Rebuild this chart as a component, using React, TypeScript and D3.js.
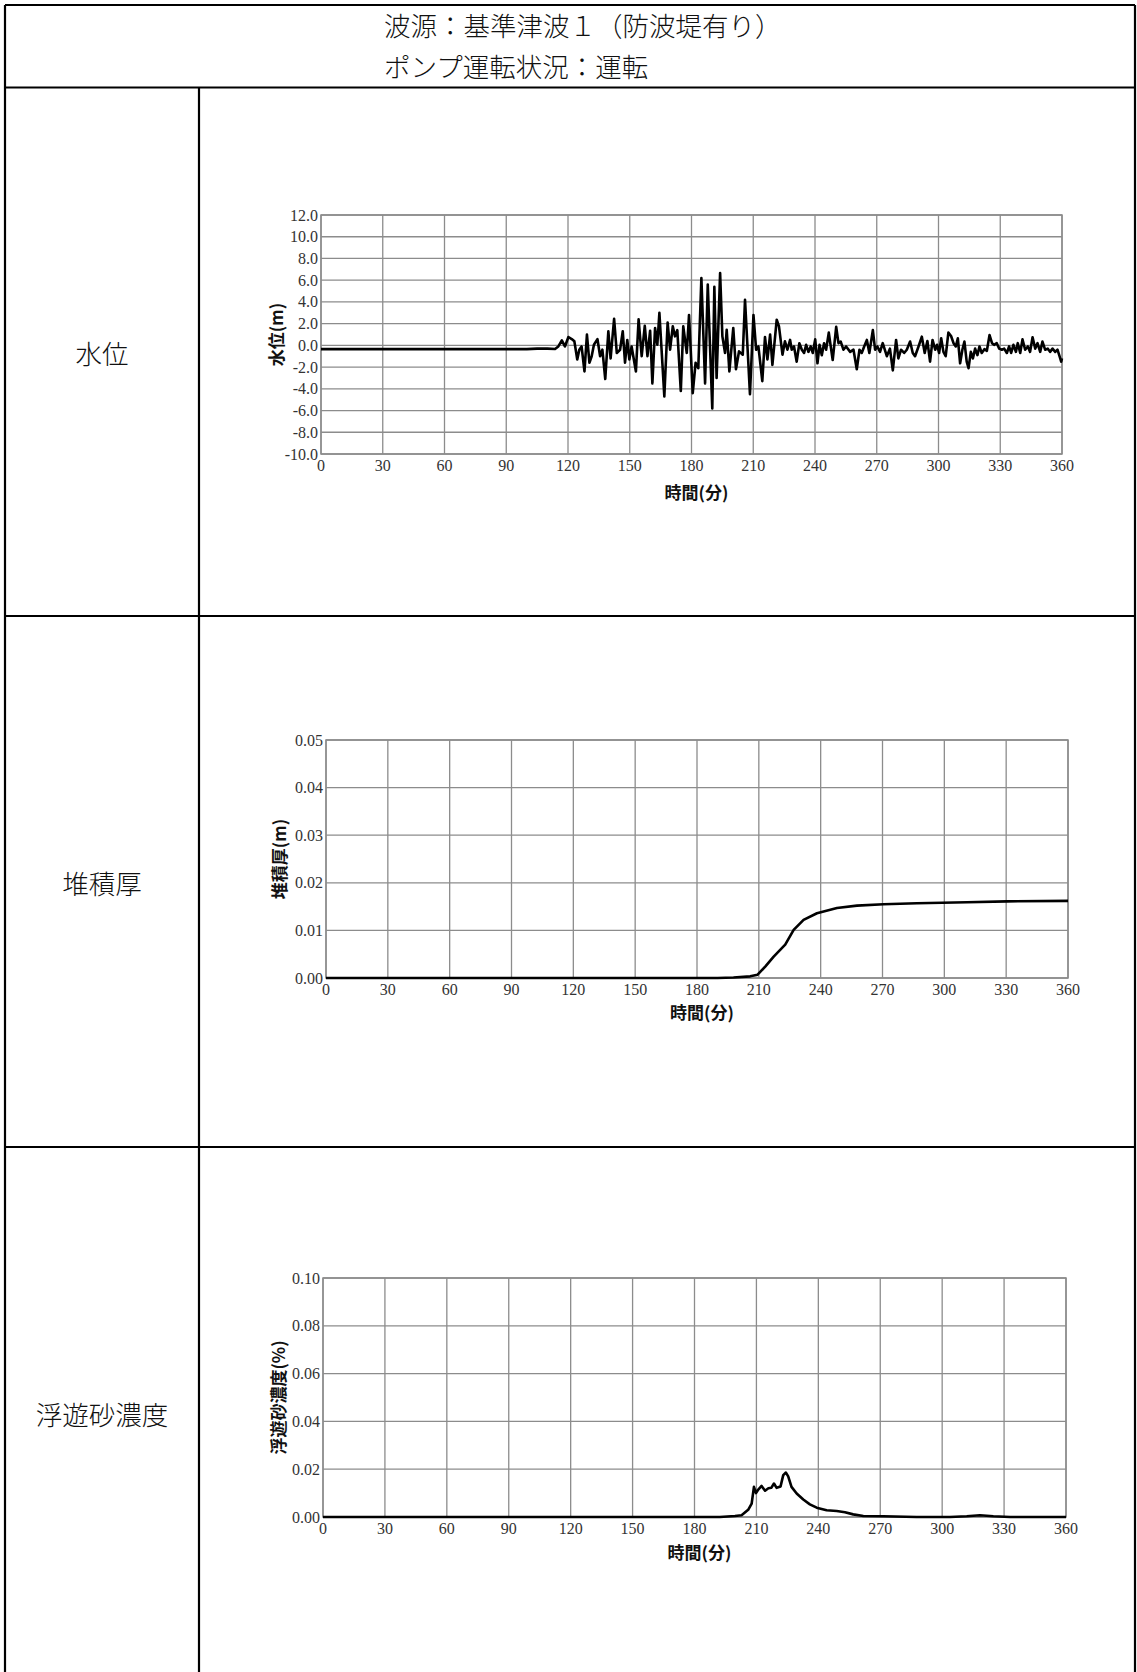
import React from "react";
import * as d3 from "d3";

// ---------- Header / labels ----------
const headerLines = ["波源：基準津波１（防波堤有り）", "ポンプ運転状況：運転"];
const rowLabels = ["水位", "堆積厚", "浮遊砂濃度"];
const xTitle = "時間(分)";
const yTitles = ["水位(m)", "堆積厚(m)", "浮遊砂濃度(%)"];

// ---------- Axis ticks ----------
const timeTicks = [0, 30, 60, 90, 120, 150, 180, 210, 240, 270, 300, 330, 360];
const levelTicks = [-10, -8, -6, -4, -2, 0, 2, 4, 6, 8, 10, 12];
const thickTicks = [0, 0.01, 0.02, 0.03, 0.04, 0.05];
const concTicks = [0, 0.02, 0.04, 0.06, 0.08, 0.1];

// ---------- Water level (m) ----------
const levelTime = [
  0, 100, 105, 110, 113.7, 115.3, 117, 118.5, 120.2, 121.8, 123.1, 124.5, 125.5, 126.6, 128, 129.2, 130.4, 131.5,
  132.6, 134.3, 135.6, 136.7, 138.1, 139.6, 140.7, 142.4, 143.7, 145.3, 146.6, 147.7, 148.8, 149.8, 150.9, 153,
  154.3, 155.8, 157.3, 158.6, 159.9, 161, 162.3, 163.4, 164.4, 166.8, 168.4, 169.6, 170.9, 172, 173.1, 174.8, 176,
  177.7, 178.8, 180.6, 182, 183.3, 184.8, 186.6, 187.9, 190.1, 191.1, 192.2, 193.9, 195, 196.3, 197.1, 198.4,
  200.3, 201.6, 203.1, 204.9, 206, 208.4, 210.1, 211.4, 212.5, 214.4, 215.7, 216.9, 218.2, 219.3, 221.4, 222.5,
  224.2, 225.4, 226.6, 227.9, 228.7, 229.8, 231.1, 232.4, 233.6, 234.7, 235.7, 236.8, 237.9, 238.9, 240.1, 241.2,
  242.2, 243.3, 244.4, 245.4, 246.7, 247.8, 248.6, 250.3, 251.4, 252.5, 253.8, 255.1, 257.1, 258.7, 260.3, 261.6,
  262.7, 263.9, 265.2, 266.4, 268.1, 269.2, 270.3, 271.6, 272.9, 274.9, 276.4, 277.8, 279.4, 280.5, 281.8, 283.3,
  284.6, 286.2, 287.5, 288.6, 290.3, 291.9, 293.3, 294.6, 295.9, 297.1, 298.4, 299.3, 300.3, 301.3, 302.4, 303.5,
  304.8, 306.1, 307.3, 308.4, 309.4, 310.5, 311.6, 312.6, 313.7, 314.6, 315.7, 316.7, 317.8, 318.9, 319.9, 321,
  322.3, 323.5, 324.8, 326, 327, 328.3, 329.5, 330.8, 331.9, 333.2, 334.3, 335.3, 336.4, 337.6, 338.5, 339.7,
  340.8, 342.1, 343.4, 344.5, 345.7, 347, 348.1, 349.4, 350.5, 351.8, 353.1, 354.2, 355.4, 356.7, 357.8, 358.8,
  359.6, 360,
];
const levelValue = [
  -0.35, -0.35, -0.3, -0.3, -0.33, -0.1, 0.46, -0.1, 0.77, 0.58, 0.37, -1.3, -0.4, -0.1, -2.4, 1.0, -1.6, -1.0,
  0.06, 0.58, -1.0, -0.4, -3.1, 1.3, -1.2, 2.45, -0.7, -0.4, 1.3, -1.6, 0.5, -1.3, -0.1, -2.4,
  2.4, -1.0, 1.8, -1.0, 1.35, -3.5, 1.6, 0.06, 3.0, -4.7, 2.1, -0.4, 1.75, 0.83, 1.4, -4.2, 1.75,
  -0.7, 2.8, -4.4, -1.6, -2.1, 6.2, -3.5, 5.6, -5.8, 5.4, -3.0, 6.65, 0.83, -0.7, 1.44, -2.4,
  1.6, -2.2, -0.55, -0.86, 4.2, -4.5, 2.8, -0.4, -0.1, -3.3, 0.77, -1.3, 1.0, -1.8, 2.36, 1.75,
  -0.86, 0.37, -0.4, 0.5, -0.4, -0.1, -1.5, 0.2, -0.4, -0.7, 0.05, -0.6, -0.1, -0.7, 0.55, -1.65,
  0.05, -0.9, 0.2, -0.4, 1.17, -0.3, -1.35, 1.7, 0.2, 0.35, -0.4, -0.1, -0.6, -0.4, -2.2, -0.4,
  -0.7, -0.1, 0.5, -0.7, 1.4, -0.4, -0.1, -0.6, 0.2, -1.0, -0.3, -2.3, 0.5, -1.2, -0.4, -0.7,
  -0.4, 0.35, -0.7, -1.0, -0.1, 0.8, -0.7, 0.4, -1.5, 0.5, -0.4, 0.05, -0.7, 0.65, -0.6, -1.0,
  1.17, 0.86, 0.2, -0.1, 0.65, -1.65, -0.4, 0.35, -1.5, -2.1, -0.6, -1.2, -0.3, -0.9, -0.1, -0.7,
  -0.35, -0.5, 0.95, 0.2, 0.05, 0.2, -0.3, -0.4, -0.3, -0.7, -0.1, -0.7, 0.05, -0.6, 0.2, -0.7,
  0.55, -0.4, -0.1, -0.6, 0.75, -0.3, 0.2, -0.6, 0.35, -0.4, -0.3, -0.6, -0.3, -0.6, -0.4, -1.0,
  -1.5, -1.2,
];

// ---------- Deposit thickness (m) ----------
const thickTime = [0, 190, 197.7, 205.8, 209.4, 213.1, 217.2, 222.8, 226.9, 231.7, 238.2, 247.9, 257.6, 270.5, 286.7, 311, 330.4, 360];
const thickValue = [0, 0, 0.0001, 0.00035, 0.0007, 0.0024, 0.0045, 0.007, 0.0101, 0.0122, 0.0136, 0.0147, 0.0152, 0.0155, 0.0157, 0.0159, 0.0161, 0.0162];

// ---------- Suspended sand concentration (%) ----------
const concTime = [
  0, 192.3, 199.6, 202.8, 206, 207.7, 208.8, 209.8, 210.9, 212.5, 214.2, 215.8, 217.2, 218.5, 219.8, 221.7, 223,
  224.3, 225.4, 227, 229.5, 232.7, 235.9, 239.2, 244, 248.9, 252.9, 256.9, 261.8, 271.5, 287.6, 303.8, 311.9,
  318.3, 324.8, 332.9, 360,
];
const concValue = [
  0, 0, 0.0004, 0.0007, 0.003, 0.0056, 0.0126, 0.01, 0.0115, 0.013, 0.011, 0.012, 0.0122, 0.014, 0.0122, 0.0128,
  0.0175, 0.0186, 0.017, 0.0126, 0.0098, 0.0073, 0.0053, 0.0039, 0.0028, 0.0025, 0.002, 0.0011, 0.0004, 0.0003, 0,
  0, 0.0003, 0.0007, 0.0003, 0, 0,
];

const sans = "'Noto Sans CJK JP', 'Noto Sans', sans-serif";
const serif = "'Liberation Serif', 'DejaVu Serif', serif";

type ChartProps = {
  left: number;
  top: number;
  right: number;
  bottom: number;
  yDomain: [number, number];
  yTicks: number[];
  yFormat: (v: number) => string;
  times: number[];
  values: number[];
  yTitle: string;
  yTitleOffset: number;
  xTitleOffset: number;
};

function Chart(p: ChartProps) {
  const x = d3.scaleLinear().domain([0, 360]).range([p.left, p.right]);
  const y = d3.scaleLinear().domain(p.yDomain).range([p.bottom, p.top]);
  const pts = p.times.map((t, i) => [t, p.values[i]] as [number, number]);
  const line = d3
    .line<[number, number]>()
    .x((d) => x(d[0]))
    .y((d) => y(d[1]));
  const grid = "#8c8c8c";
  const cx = (p.left + p.right) / 2;
  const cy = (p.top + p.bottom) / 2;
  return (
    <g>
      {timeTicks.map((t) => (
        <line key={"vx" + t} x1={x(t)} x2={x(t)} y1={p.top} y2={p.bottom} stroke={grid} strokeWidth={1.3} />
      ))}
      {p.yTicks.map((v) => (
        <line key={"hy" + v} x1={p.left} x2={p.right} y1={y(v)} y2={y(v)} stroke={grid} strokeWidth={1.3} />
      ))}
      <rect x={p.left} y={p.top} width={p.right - p.left} height={p.bottom - p.top} fill="none" stroke={grid} strokeWidth={1.5} />
      <path d={line(pts) || ""} fill="none" stroke="#000" strokeWidth={2.6} strokeLinejoin="round" />
      {p.yTicks.map((v) => (
        <text
          key={"ty" + v}
          x={p.left - 3}
          y={y(v)}
          textAnchor="end"
          dominantBaseline="central"
          fontFamily={serif}
          fontSize={16}
          fill="#333"
        >
          {p.yFormat(v)}
        </text>
      ))}
      {timeTicks.map((t) => (
        <text
          key={"tx" + t}
          x={x(t)}
          y={p.bottom + 11.5}
          textAnchor="middle"
          dominantBaseline="central"
          fontFamily={serif}
          fontSize={16}
          fill="#333"
        >
          {t}
        </text>
      ))}
      <text
        x={cx + 5}
        y={p.bottom + p.xTitleOffset}
        textAnchor="middle"
        dominantBaseline="central"
        fontFamily={sans}
        fontWeight={700}
        fontSize={17}
        fill="#111"
      >
        {xTitle}
      </text>
      <text
        transform={`translate(${p.left - p.yTitleOffset},${cy}) rotate(-90)`}
        textAnchor="middle"
        dominantBaseline="central"
        fontFamily={sans}
        fontWeight={700}
        fontSize={17}
        fill="#111"
      >
        {p.yTitle}
      </text>
    </g>
  );
}

export default function App() {
  const W = 1137;
  const H = 1672;
  const L = 5;
  const R = 1135;
  const T = 5;
  const headB = 87.5;
  const colX = 199;
  const rowY = [616, 1147];
  const rowCenters = [352, 882, 1413];
  const f1 = (v: number) => d3.format(".1f")(v).replace("\u2212", "-");
  const f2 = (v: number) => d3.format(".2f")(v).replace("\u2212", "-");
  return (
    <svg
      width={W}
      height={H}
      style={{ position: "absolute", left: 0, top: 0, background: "#fff" }}
    >
      <rect x={0} y={0} width={W} height={H} fill="#fff" />
      {/* table */}
      <g stroke="#000" strokeWidth={2.2} fill="none">
        <line x1={L} x2={R} y1={T} y2={T} />
        <line x1={L} x2={L} y1={T} y2={H} />
        <line x1={R} x2={R} y1={T} y2={H} />
        <line x1={L} x2={R} y1={headB} y2={headB} />
        <line x1={colX} x2={colX} y1={headB} y2={H} />
        {rowY.map((yy) => (
          <line key={yy} x1={L} x2={R} y1={yy} y2={yy} />
        ))}
      </g>
      {headerLines.map((s, i) => (
        <text
          key={s}
          x={384}
          y={i === 0 ? 24 : 65}
          dominantBaseline="central"
          fontFamily={sans}
          fontWeight={300}
          fontSize={26.5}
          fill="#111"
        >
          {s}
        </text>
      ))}
      {rowLabels.map((s, i) => (
        <text
          key={s}
          x={(L + colX) / 2}
          y={rowCenters[i]}
          textAnchor="middle"
          dominantBaseline="central"
          fontFamily={sans}
          fontWeight={300}
          fontSize={26.5}
          fill="#111"
        >
          {s}
        </text>
      ))}
      <Chart
        left={321}
        top={215}
        right={1062}
        bottom={454}
        yDomain={[-10, 12]}
        yTicks={levelTicks}
        yFormat={f1}
        times={levelTime}
        values={levelValue}
        yTitle={yTitles[0]}
        yTitleOffset={46}
        xTitleOffset={37.5}
      />
      <Chart
        left={326}
        top={740}
        right={1068}
        bottom={978}
        yDomain={[0, 0.05]}
        yTicks={thickTicks}
        yFormat={f2}
        times={thickTime}
        values={thickValue}
        yTitle={yTitles[1]}
        yTitleOffset={48}
        xTitleOffset={33.5}
      />
      <Chart
        left={323}
        top={1278}
        right={1066}
        bottom={1517}
        yDomain={[0, 0.1]}
        yTicks={concTicks}
        yFormat={f2}
        times={concTime}
        values={concValue}
        yTitle={yTitles[2]}
        yTitleOffset={46}
        xTitleOffset={34.5}
      />
    </svg>
  );
}
